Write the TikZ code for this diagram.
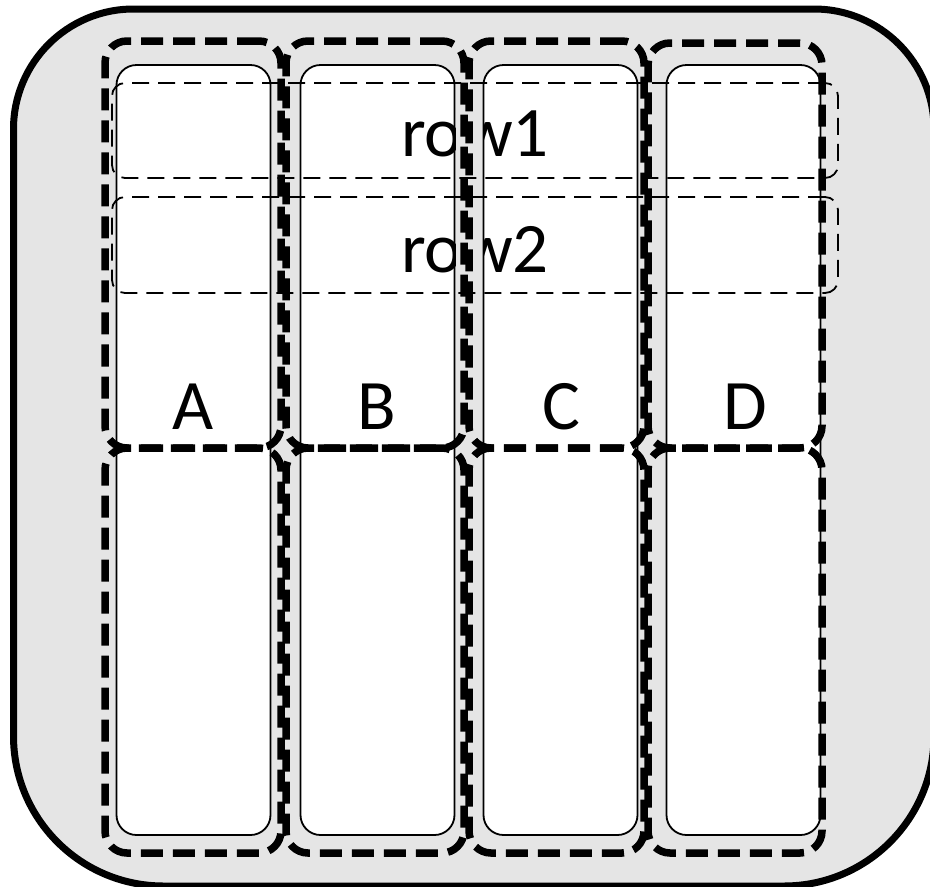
\documentclass[tikz,border=0pt]{standalone}
\usepackage{fontspec}
\setmainfont{Carlito}
\definecolor{bg}{gray}{0.9}
\begin{document}
\begin{tikzpicture}[x=1pt,y=-1pt,
  outerbox/.style={draw=black, line width=7pt, fill=bg},
  colbox/.style={draw=black, line width=1.8pt, fill=white, rounded corners=20pt, inner sep=0pt, minimum width=154pt, minimum height=770pt},
  grpbox/.style={draw=black, line width=7.5pt, dash pattern=on 22pt off 10pt, rounded corners=22pt, inner sep=0pt},
  rowbox/.style={draw=black, line width=1.8pt, dash pattern=on 17pt off 9pt, rounded corners=13pt, inner sep=0pt, minimum width=726pt},
  lbl/.style={font=\fontsize{71}{85}\selectfont, inner sep=0pt, anchor=base}
]
\useasboundingbox (0,0) rectangle (930,887);
% outer frame
\draw[outerbox] (13.5,500) [rounded corners=150pt] -- (13.5,886) -- (934,886) -- (934,500) [rounded corners=120pt] -- (934,9) -- (13.5,9) -- cycle;
% white columns
\node[colbox] (colA) at (193.5,450) {};
\node[colbox] (colB) at (377.5,450) {};
\node[colbox] (colC) at (560.5,450) {};
\node[colbox] (colD) at (743.5,450) {};
% row texts, visible only inside the columns
\begin{scope}
\clip[rounded corners=20pt] (colA.north west) rectangle (colA.south east)
  (colB.north west) rectangle (colB.south east)
  (colC.north west) rectangle (colC.south east)
  (colD.north west) rectangle (colD.south east);
\node[lbl] (t1) at (475,156) {row1};
\node[lbl] (t2) at (475,272) {row2};
\end{scope}
% column labels
\node[lbl] (lA) at (193,429) {A};
\node[lbl] (lB) at (377,429) {B};
\node[lbl] (lC) at (561,429) {C};
\node[lbl] (lD) at (745,429) {D};
% row boxes
\node[rowbox, minimum height=95pt] (row1) at (475,130.5) {};
\node[rowbox, minimum height=96pt] (row2) at (475,245) {};
% group boxes
\node[grpbox, minimum width=176pt, minimum height=407pt] (gAu) at (193,244.5) {};
\node[grpbox, minimum width=176pt, minimum height=405pt] (gAl) at (193,650.5) {};
\node[grpbox, minimum width=178pt, minimum height=407pt] (gBu) at (375,244.5) {};
\node[grpbox, minimum width=178pt, minimum height=405pt] (gBl) at (375,650.5) {};
\node[grpbox, minimum width=175pt, minimum height=407pt] (gCu) at (556.5,244.5) {};
\node[grpbox, minimum width=175pt, minimum height=405pt] (gCl) at (556.5,650.5) {};
\node[grpbox, minimum width=174pt, minimum height=405pt] (gDu) at (735,245.5) {};
\node[grpbox, minimum width=174pt, minimum height=405pt] (gDl) at (735,650.5) {};
\end{tikzpicture}
\end{document}
